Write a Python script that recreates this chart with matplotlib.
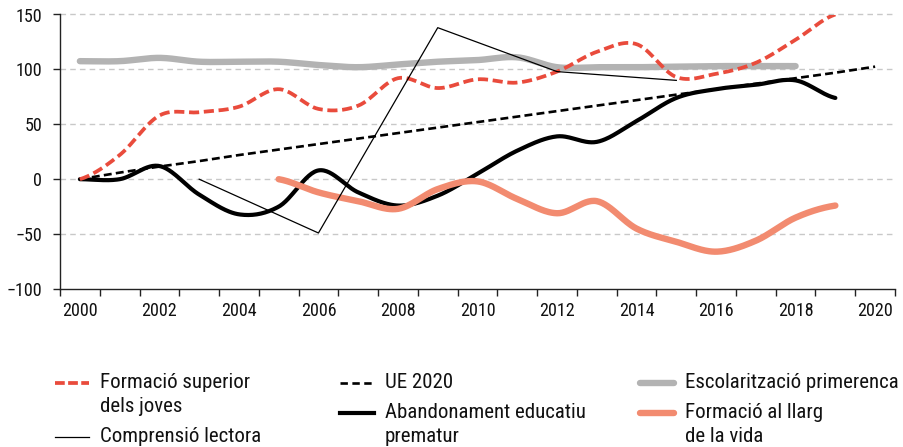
import numpy as np
import matplotlib
matplotlib.use("Agg")
import matplotlib.pyplot as plt
from matplotlib.lines import Line2D
from matplotlib.ticker import FixedLocator

plt.rcParams['font.family'] = ['Roboto Condensed', 'Liberation Sans Narrow', 'Roboto', 'DejaVu Sans']

# ------------------------------------------------
## Data (index, 2000 = 0)
# ------------------------------------------------
years = list(range(2000, 2021))

formacio_superior = [0, 22, 58, 61, 66, 82, 64, 67, 92, 83, 91, 88, 98, 116, 123, 93, 96, 106, 127, 150]
ue_2020 = [0, 6, 11.5, 16.5, 22, 27, 32, 37, 42, 47, 52, 57, 62, 67, 72, 77, 82, 87, 92, 97, 102.5]
escolaritzacio = [107.5, 107.5, 110.5, 107, 107, 107, 104, 102, 104.5, 107, 108.5, 111, 102, 102, 102, 102.5, 103, 103, 103]
abandonament = [0, 0, 12, -14, -32, -25, 8, -12, -24, -15, 5, 26, 39, 34, 53, 74, 82, 86, 90, 74]
llarg_vida_years = list(range(2005, 2020))
llarg_vida = [0, -12, -20, -27, -9, -2, -18, -31, -20, -45, -57, -66, -56, -35, -24]
lectora_years = [2003, 2006, 2009, 2012, 2015]
lectora = [0, -49, 138, 98, 90]

RED = "#e94b3c"
SALMON = "#f28b70"
GREY = "#b3b3b3"


def __smooth__(xs, ys, n=30):
    # uniform catmull-rom through the yearly points
    xs = np.asarray(xs, dtype=float)
    ys = np.asarray(ys, dtype=float)
    m = np.zeros_like(ys)
    m[1:-1] = (ys[2:] - ys[:-2]) / 2
    m[0] = (ys[1] - ys[0]) / 2
    m[-1] = (ys[-1] - ys[-2]) / 2
    out_x, out_y = [xs[0]], [ys[0]]
    for i in range(len(xs) - 1):
        t = np.linspace(0, 1, n)[1:]
        h00 = 2 * t**3 - 3 * t**2 + 1
        h10 = t**3 - 2 * t**2 + t
        h01 = -2 * t**3 + 3 * t**2
        h11 = t**3 - t**2
        out_x.extend(xs[i] + t * (xs[i + 1] - xs[i]))
        out_y.extend(h00 * ys[i] + h10 * m[i] + h01 * ys[i + 1] + h11 * m[i + 1])
    return np.array(out_x), np.array(out_y)


fig = plt.figure(figsize=(9.04, 4.47), dpi=100)
ax = fig.add_axes([60 / 904, 1 - 289 / 447, 835 / 904, 274.5 / 447])

x, y = __smooth__(years[:len(escolaritzacio)], escolaritzacio)
ax.plot(x, y, color=GREY, lw=4.6, solid_capstyle="round", zorder=2)
x, y = __smooth__(years[:len(abandonament)], abandonament)
ax.plot(x, y, color="black", lw=3.0, solid_capstyle="round", zorder=3)
ax.plot(years, ue_2020, color="black", lw=1.9, dashes=(3.0, 1.6), zorder=4)
x, y = __smooth__(llarg_vida_years, llarg_vida)
ax.plot(x, y, color=SALMON, lw=4.6, solid_capstyle="round", zorder=5)
x, y = __smooth__(years[:len(formacio_superior)], formacio_superior)
ax.plot(x, y, color=RED, lw=2.7, dashes=(2.7, 1.25), zorder=6)
ax.plot(lectora_years, lectora, color="black", lw=0.9, zorder=7)

ax.set_xlim(1999.5, 2020.5)
ax.set_ylim(-100, 150)
ax.set_yticks([-100, -50, 0, 50, 100, 150])
ax.set_xticks(years[::2])
ax.xaxis.set_minor_locator(FixedLocator(np.arange(1999.5, 2021, 1)))
ax.tick_params(axis="x", which="major", length=0, pad=9, labelsize=13, labelcolor="#111")
ax.tick_params(axis="x", which="minor", length=5, width=1, color="#222", direction="out")
ax.tick_params(axis="y", length=5, width=1, color="#222", pad=8, labelsize=13, labelcolor="#111")

for v in [-50, 0, 50, 100, 150]:
    ax.axhline(v, color="#c8c8c8", lw=1, dashes=(4, 3), zorder=1, clip_on=False)

for s in ["top", "right"]:
    ax.spines[s].set_visible(False)
for s in ["left", "bottom"]:
    ax.spines[s].set_color("#222")
    ax.spines[s].set_linewidth(1)

# ------------------------------------------------
## Legend, drawn by hand in pixel coordinates
# ------------------------------------------------
def __px__(px, py):
    return px / 904, 1 - py / 447


legend_items = [
    ("Formació superior\ndels joves", dict(color=RED, lw=2.7, dashes=(2.6, 0.9)), 55, 383),
    ("Comprensió lectora", dict(color="black", lw=0.9), 55, 437),
    ("UE 2020", dict(color="black", lw=1.9, dashes=(2.8, 1.7)), 340, 383),
    ("Abandonament educatiu\nprematur", dict(color="black", lw=3.0), 340, 413),
    ("Escolarització primerenca", dict(color=GREY, lw=4.6, solid_capstyle="round"), 640, 383),
    ("Formació al llarg\nde la vida", dict(color=SALMON, lw=4.6, solid_capstyle="round"), 640, 413),
]

for label, style, hx, hy in legend_items:
    x0, y0 = __px__(hx, hy)
    x1, _ = __px__(hx + 34, hy)
    fig.add_artist(Line2D([x0, x1], [y0, y0], transform=fig.transFigure, **style))
    for k, line in enumerate(label.split("\n")):
        tx, ty = __px__(hx + 45, hy + 23 * k)
        fig.text(tx, ty, line, fontsize=15, color="#111", va="center", ha="left")

fig.savefig("out.png", dpi=100)
